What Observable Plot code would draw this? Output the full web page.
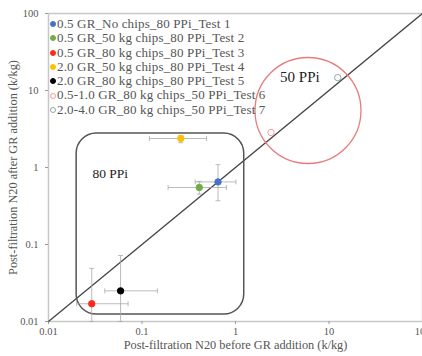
<!DOCTYPE html>
<html><head><meta charset="utf-8">
<script src="https://cdn.jsdelivr.net/npm/d3@7"></script>
<script src="https://cdn.jsdelivr.net/npm/@observablehq/plot@0.6"></script>
<style>
body{margin:0;background:#fff;font-family:'Liberation Serif','Times New Roman','DejaVu Serif',serif;}
#wrap{position:relative;width:422px;height:356px;}
#legend{position:absolute;left:50px;top:17px;font-size:13px;letter-spacing:0.15px;line-height:14.3px;color:#555;font-family:'Liberation Serif','Times New Roman',serif;}
#legend div{white-space:nowrap;display:flex;align-items:center;height:14.3px;}
#legend span.m{display:inline-block;width:6px;height:6px;border-radius:50%;margin-right:1px;box-sizing:border-box;}
svg text{font-family:'Liberation Serif','Times New Roman',serif;}
</style></head>
<body><div id="wrap"><div id="legend"></div></div>
<script>
const tests = ["0.5 GR_No chips_80 PPi_Test 1","0.5 GR_50 kg chips_80 PPi_Test 2","0.5 GR_80 kg chips_80 PPi_Test 3","2.0 GR_50 kg chips_80 PPi_Test 4","2.0 GR_80 kg chips_80 PPi_Test 5","0.5-1.0 GR_80 kg chips_50 PPi_Test 6","2.0-4.0 GR_80 kg chips_50 PPi_Test 7"];
const colors = ["#4472C4","#70AD47","#FF2A1A","#FFC000","#000000","#F4A0A0","#8FA8A0"];
const filled = [true,true,true,true,true,false,false];
const xBefore = [0.65,0.41,0.029,0.26,0.059,2.4,12.4];
const yAfter = [0.65,0.55,0.017,2.38,0.025,2.85,14.7];
const xLo = [0.37,0.19,0.02,0.12,0.04,null,null];
const xHi = [1.01,0.8,0.071,0.49,0.146,null,null];
const yLo = [0.37,0.45,0.01,2.1,0.01,null,null];
const yHi = [1.09,0.66,0.049,2.6,0.072,null,null];
const tickVals = [0.01,0.1,1,10,100];
const tickLabels = ["0.01","0.1","1","10","100"];
const boxLabel = "80 PPi", circleLabel = "50 PPi";
const box = {x1:0.02,x2:1.24,y1:0.0123,y2:2.76};
const circ = {x:5.96,y:5.5};

const data = tests.map((t,i)=>({t,c:colors[i],f:filled[i],x:xBefore[i],y:yAfter[i],xl:xLo[i],xh:xHi[i],yl:yLo[i],yh:yHi[i]}));
const err = data.filter(d=>d.xl!=null);
const vcap = {draw(ctx,size){const r=Math.sqrt(size/Math.PI);ctx.moveTo(0,-r);ctx.lineTo(0,r);}};
const hcap = {draw(ctx,size){const r=Math.sqrt(size/Math.PI);ctx.moveTo(-r,0);ctx.lineTo(r,0);}};
const fmt = d=>tickLabels[tickVals.indexOf(d)] ?? "";

const chart = Plot.plot({
  width:422,height:356,marginLeft:48,marginTop:13,marginRight:0,marginBottom:35,
  style:{fontFamily:"'Liberation Serif','Times New Roman',serif",fontSize:"11px",color:"#555",background:"#fff"},
  x:{type:"log",domain:[0.01,100]},
  y:{type:"log",domain:[0.01,100]},
  marks:[
    Plot.frame({stroke:"#c8c8c8",strokeWidth:1.5}),
    Plot.axisX({ticks:tickVals,tickFormat:fmt,tickSize:3,tickPadding:3,fontSize:10.5,stroke:"#999",label:null}),
    Plot.axisY({ticks:tickVals,tickFormat:fmt,tickSize:3,tickPadding:7,fontSize:10.5,stroke:"#999",label:null}),
    Plot.axisX({ticks:[],label:"Post-filtration N20 before GR addition (k/kg)",labelAnchor:"center",labelArrow:"none",labelOffset:27,fontSize:12.3,tickSize:0}),
    Plot.axisY({ticks:[],label:"Post-filtration N20 after GR addition (k/kg)",labelAnchor:"center",labelArrow:"none",labelOffset:40,fontSize:12.3,tickSize:0}),
    Plot.link([{a:0.01,b:100}],{x1:"a",y1:"a",x2:"b",y2:"b",stroke:"#444",strokeWidth:1.3}),
    Plot.rect([box],{x1:"x1",x2:"x2",y1:"y1",y2:"y2",rx:20,fill:"none",stroke:"#555",strokeWidth:1.5}),
    Plot.dot([circ],{x:"x",y:"y",r:53,stroke:"#E77C7C",strokeWidth:1.3,fill:"none"}),
    Plot.text([{x:0.0295,y:0.84}],{x:"x",y:"y",text:()=>boxLabel,fontSize:13.5,fill:"#222",textAnchor:"start"}),
    Plot.text([{x:3.0,y:15}],{x:"x",y:"y",text:()=>circleLabel,fontSize:15,fill:"#222",textAnchor:"start"}),
    Plot.link(err,{x1:"xl",x2:"xh",y1:"y",y2:"y",stroke:"#aaa",strokeWidth:0.8}),
    Plot.link(err,{x1:"x",x2:"x",y1:"yl",y2:"yh",stroke:"#aaa",strokeWidth:0.8}),
    Plot.dot(err,{x:"xl",y:"y",symbol:vcap,r:2.5,stroke:"#aaa",strokeWidth:0.8}),
    Plot.dot(err,{x:"xh",y:"y",symbol:vcap,r:2.5,stroke:"#aaa",strokeWidth:0.8}),
    Plot.dot(err,{x:"x",y:"yl",symbol:hcap,r:2.5,stroke:"#aaa",strokeWidth:0.8}),
    Plot.dot(err,{x:"x",y:"yh",symbol:hcap,r:2.5,stroke:"#aaa",strokeWidth:0.8}),
    Plot.dot(data,{x:"x",y:"y",r:3.2,fill:d=>d.f?d.c:"white",stroke:d=>d.c,strokeWidth:1})
  ]
});
document.getElementById("wrap").prepend(chart);
const lg = document.getElementById("legend");
data.forEach(d=>{
  const row=document.createElement("div");
  const m=document.createElement("span");m.className="m";
  m.style.background=d.f?d.c:"white";m.style.border="1px solid "+d.c;
  row.appendChild(m);row.appendChild(document.createTextNode(d.t));lg.appendChild(row);
});
</script></body></html>
